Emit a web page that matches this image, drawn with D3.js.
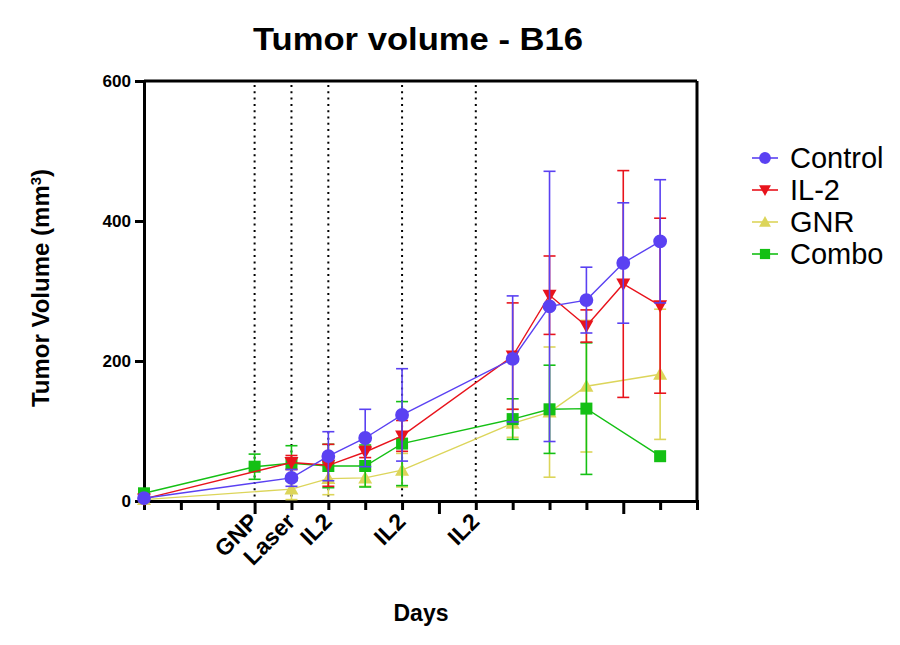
<!DOCTYPE html>
<html><head><meta charset="utf-8">
<script src="https://cdn.jsdelivr.net/npm/d3@7"></script>
<style>body{margin:0;background:#fff}svg{font-family:"Liberation Sans",Arial,sans-serif}</style>
</head><body><svg id="c" width="900" height="645"></svg>
<script>
const days = [0,3,4,5,6,7,10,11,12,13,14];
const control = [4,null,33,64,90,123,203,278,287,340,371];
const controlErr = [2,null,12,35,41,66,90,193,47,86,88];
const il2 = [3,null,55,51,70,93,207,294,250,310,279];
const il2Err = [2,null,10,30,8,22,76,56,23,162,125];
const gnr = [2,null,17,32,33,44,111,127,164,null,181];
const gnrErr = [2,null,15,23,12,24,20,93,94,null,93];
const combo = [11,49,54,50,50,82,117,131,132,null,64];
const comboErr = [3,18,25,31,30,60,29,63,94,null,0];
const seriesNames = ["Control","IL-2","GNR","Combo"];
const seriesColors = ["#5a41f2","#e8131c","#dcd55a","#14c014"];
const markers = ["circle","triDown","triUp","square"];
const eventDays = [3,4,5,7,9];
const eventLabels = ["GNP","Laser","IL2","IL2","IL2"];
const yTicks = [0,200,400,600];

const svg = d3.select("#c");
const x = d3.scaleLinear().domain([0,15]).range([144,697]);
const y = d3.scaleLinear().domain([0,600]).range([501,81]);

// title
svg.append("text").attr("x",418).attr("y",50).attr("text-anchor","middle")
  .attr("font-size",32).attr("font-weight","bold")
  .attr("textLength",330).attr("lengthAdjust","spacingAndGlyphs").text("Tumor volume - B16");

// dotted event lines
svg.selectAll(".ev").data(eventDays).enter().append("line")
  .attr("x1",d=>x(d)).attr("x2",d=>x(d)).attr("y1",y(600)+4).attr("y2",y(0))
  .attr("stroke","#000").attr("stroke-width",2).attr("stroke-dasharray","2,4.3");

// frame
svg.append("line").attr("x1",x(0)).attr("x2",x(15)).attr("y1",y(600)).attr("y2",y(600)).attr("stroke","#000").attr("stroke-width",3);
svg.append("line").attr("x1",x(15)).attr("x2",x(15)).attr("y1",y(600)).attr("y2",y(0)).attr("stroke","#000").attr("stroke-width",3);

// y axis
const ya = svg.append("g").attr("transform",`translate(${x(0)},0)`)
  .call(d3.axisLeft(y).tickValues(yTicks).tickSize(9).tickPadding(4));
ya.select(".domain").attr("stroke-width",3);
ya.selectAll(".tick line").attr("stroke-width",3);
ya.selectAll(".tick text").attr("font-size",16).attr("font-weight","bold")
  .attr("font-family","Liberation Sans, Arial, sans-serif")
  .attr("textLength",d=>String(d).length*9.5).attr("lengthAdjust","spacingAndGlyphs");

// x axis
const xa = svg.append("g").attr("transform",`translate(0,${y(0)})`)
  .call(d3.axisBottom(x).tickValues(d3.range(0,16)).tickSize(9).tickFormat(""));
xa.select(".domain").attr("stroke-width",3);
xa.selectAll(".tick line").attr("stroke-width",3).attr("y2",d=>(d%5===3)?13:9);

// event labels
svg.selectAll(".evl").data(eventDays).enter().append("text")
  .attr("transform",(d)=>`translate(${x(d)+5},${y(0)+22}) rotate(-45)`)
  .attr("text-anchor","end").attr("font-size",23).attr("font-weight","bold")
  .text((d,i)=>eventLabels[i]);

// axis titles
svg.append("text").attr("transform","translate(49,288) rotate(-90)").attr("text-anchor","middle")
  .attr("font-size",24).attr("font-weight","bold")
  .html('Tumor Volume (mm<tspan baseline-shift="super" font-size="15">3</tspan>)');
svg.append("text").attr("x",421).attr("y",621).attr("text-anchor","middle")
  .attr("font-size",23).attr("font-weight","bold").text("Days");

function markerPath(type){
  if(type==="circle") return d3.symbol(d3.symbolCircle,150)();
  if(type==="square") return d3.symbol(d3.symbolSquare,144)();
  if(type==="triUp") return "M0,-7L7,5.5L-7,5.5Z";
  return "M0,7L7,-5.5L-7,-5.5Z";
}

const allVals = [control,il2,gnr,combo];
const allErr = [controlErr,il2Err,gnrErr,comboErr];
const seriesData = allVals.map((vals,si)=>days.map((d,i)=>({d,v:vals[i],e:allErr[si][i]})).filter(p=>p.v!==null));

const drawOrder = [2,3,1,0];
drawOrder.forEach(si=>{
  const g = svg.append("g");
  const col = seriesColors[si];
  const pts = seriesData[si];
  pts.filter(p=>p.e>3).forEach(p=>{
    const cx = x(p.d);
    g.append("line").attr("x1",cx).attr("x2",cx).attr("y1",y(p.v-p.e)).attr("y2",y(p.v+p.e)).attr("stroke",col).attr("stroke-width",1.6);
    [p.v-p.e,p.v+p.e].forEach(vv=>g.append("line").attr("x1",cx-6).attr("x2",cx+6).attr("y1",y(vv)).attr("y2",y(vv)).attr("stroke",col).attr("stroke-width",1.6));
  });
  g.append("path").datum(pts).attr("fill","none").attr("stroke",col).attr("stroke-width",1.4)
    .attr("d",d3.line().x(p=>x(p.d)).y(p=>y(p.v)));
  g.selectAll(".m").data(pts).enter().append("path")
    .attr("transform",p=>`translate(${x(p.d)},${y(p.v)})`)
    .attr("d",markerPath(markers[si])).attr("fill",col);
});

// legend
seriesNames.forEach((n,i)=>{
  const ly = 158 + i*32;
  const g = svg.append("g").attr("transform",`translate(765,${ly})`);
  g.append("line").attr("x1",-13).attr("x2",13).attr("stroke",seriesColors[i]).attr("stroke-width",1.6);
  g.append("path").attr("d",markerPath(markers[i])).attr("fill",seriesColors[i]).attr("transform","scale(0.85)");
  g.append("text").attr("x",25).attr("y",10).attr("font-size",29).text(n);
});
</script></body></html>
